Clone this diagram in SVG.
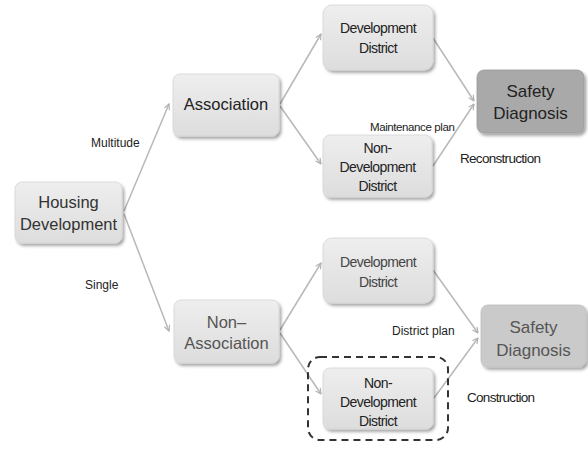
<svg xmlns="http://www.w3.org/2000/svg" width="588" height="449" viewBox="0 0 588 449">
<style>
.box{fill:url(#g);stroke:#d4d4d4;stroke-width:0.8;filter:url(#sh)}
.t{font-family:"Liberation Sans","Noto Sans",Arial,sans-serif;text-anchor:middle;dominant-baseline:central}
.big{font-size:16.5px}
.sd{font-size:17px}
.dist{font-size:14px;letter-spacing:-0.6px;fill:#222}
.lab{font-family:"Liberation Sans","Noto Sans",Arial,sans-serif;font-size:12px;fill:#222;dominant-baseline:central}
.lab13{font-size:13.5px;letter-spacing:-0.7px}
.cn{stroke:#b8b8b8;stroke-width:1.5;fill:none;marker-end:url(#ah)}
</style>
<defs>
<linearGradient id="g" x1="0" y1="0" x2="0" y2="1">
<stop offset="0" stop-color="#eeeeee"/>
<stop offset="1" stop-color="#dddddd"/>
</linearGradient>
<filter id="sh" x="-10%" y="-10%" width="125%" height="130%">
<feDropShadow dx="2" dy="2.5" stdDeviation="1.5" flood-color="#000" flood-opacity="0.35"/>
</filter>
<marker id="ah" viewBox="0 0 10 10" refX="9" refY="5" markerWidth="7" markerHeight="7" orient="auto" markerUnits="userSpaceOnUse">
<path d="M1,1 L9,5 L1,9" fill="none" stroke="#b0b0b0" stroke-width="1.6"/>
</marker>
</defs>
<rect width="588" height="449" fill="#ffffff"/>

<g id="connectors">
<line class="cn" x1="124" y1="211" x2="169" y2="104"/>
<line class="cn" x1="124" y1="214" x2="169" y2="331"/>
<line class="cn" x1="280" y1="104" x2="321" y2="34"/>
<line class="cn" x1="280" y1="106" x2="321" y2="164"/>
<line class="cn" x1="433" y1="38" x2="474" y2="101"/>
<line class="cn" x1="433" y1="166" x2="474" y2="104"/>
<line class="cn" x1="280" y1="330" x2="321" y2="263"/>
<line class="cn" x1="280" y1="333" x2="321" y2="394"/>
<line class="cn" x1="433" y1="270" x2="478" y2="333"/>
<line class="cn" x1="434" y1="398" x2="478" y2="338"/>
</g>

<g id="housing">
<rect class="box" x="15" y="182" width="107" height="61" rx="7"/>
<text class="t big" x="68.5" y="202" fill="#333">Housing</text>
<text class="t big" x="68.5" y="224" fill="#333">Development</text>
</g>

<g id="association">
<rect class="box" x="173" y="74" width="106" height="62" rx="7"/>
<text class="t big" x="226" y="104" fill="#222">Association</text>
</g>

<g id="non-association">
<rect class="box" x="174" y="300" width="105" height="63" rx="7"/>
<text class="t big" x="226.5" y="322" fill="#555">Non–</text>
<text class="t big" x="226.5" y="343" fill="#555">Association</text>
</g>

<g id="dev-district-1">
<rect class="box" x="323" y="5" width="110" height="65" rx="9"/>
<text class="t dist" x="378" y="28">Development</text>
<text class="t dist" x="378" y="48">District</text>
</g>

<g id="nondev-district-1">
<rect class="box" x="323" y="135" width="109" height="62" rx="7"/>
<text class="t dist" x="377.5" y="148">Non-</text>
<text class="t dist" x="377.5" y="167">Development</text>
<text class="t dist" x="377.5" y="186">District</text>
</g>

<g id="safety-1">
<rect x="477" y="70" width="107" height="63" rx="7" fill="#a9a9a9" stroke="#9a9a9a" stroke-width="0.8" filter="url(#sh)"/>
<text class="t sd" x="530.5" y="91" fill="#222">Safety</text>
<text class="t sd" x="530.5" y="113" fill="#222">Diagnosis</text>
</g>

<g id="dev-district-2">
<rect class="box" x="323" y="238" width="110" height="65" rx="9"/>
<text class="t dist" x="378" y="262" style="fill:#444">Development</text>
<text class="t dist" x="378" y="282" style="fill:#444">District</text>
</g>

<g id="nondev-district-2">
<rect x="308" y="357" width="140" height="83" rx="12" fill="none" stroke="#333" stroke-width="2" stroke-dasharray="7,5"/>
<rect class="box" x="323" y="368" width="110" height="61" rx="7"/>
<text class="t dist" x="378" y="383">Non-</text>
<text class="t dist" x="378" y="402">Development</text>
<text class="t dist" x="378" y="421">District</text>
</g>

<g id="safety-2">
<rect x="481" y="305" width="105" height="62" rx="7" fill="#cacaca" stroke="#bdbdbd" stroke-width="0.8" filter="url(#sh)"/>
<text class="t sd" x="533.5" y="327" fill="#555">Safety</text>
<text class="t sd" x="533.5" y="350" fill="#555">Diagnosis</text>
</g>

<g id="labels">
<text class="lab" x="91" y="143">Multitude</text>
<text class="lab" x="85" y="285">Single</text>
<text class="lab" x="370" y="127" style="font-size:11.5px;letter-spacing:-0.4px">Maintenance plan</text>
<text class="lab lab13" x="460" y="158">Reconstruction</text>
<text class="lab" x="392" y="331">District plan</text>
<text class="lab lab13" x="467" y="397">Construction</text>
</g>
</svg>
